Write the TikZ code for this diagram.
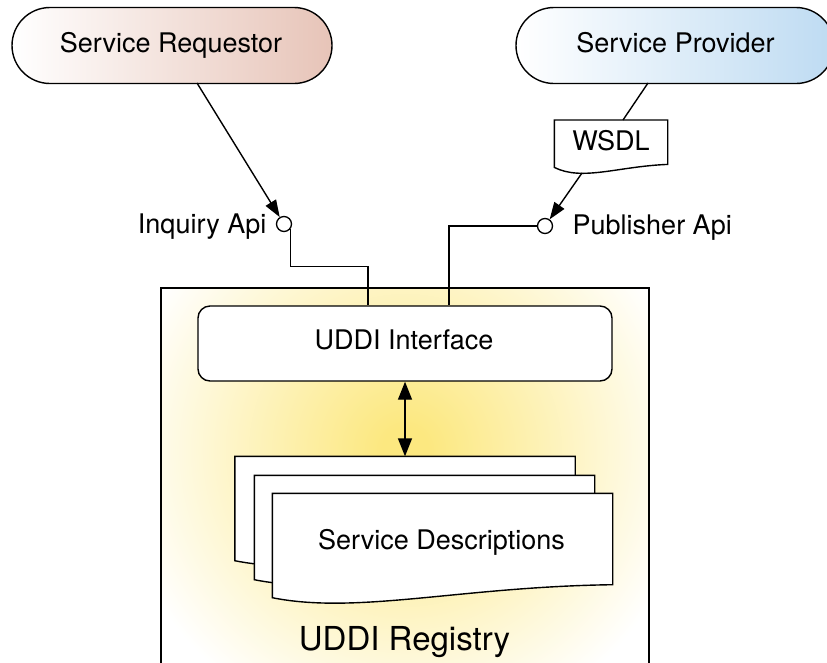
\documentclass[tikz,border=0pt]{standalone}
\usepackage{fontspec}
\setmainfont{TeX Gyre Heros}
\usetikzlibrary{arrows.meta,calc}
\definecolor{reqc}{RGB}{231,196,184}
\definecolor{provc}{RGB}{190,219,242}
\definecolor{regc}{RGB}{252,232,128}
\pgfdeclareradialshading{regshade}{\pgfpoint{0bp}{0bp}}{color(0bp)=(regc); color(2bp)=(regc); color(25bp)=(white); color(50bp)=(white)}
\newcommand\docoutline[1]{%
  \filldraw[fill=white] (#1.north west) -- (#1.north east) -- ($(#1.south east)+(0,-13)$)
    .. controls ($(#1.south east)+(-152,-11)$) and ($(#1.south west)+(85,17)$) .. (#1.south west) -- cycle;}
\begin{document}
\begin{tikzpicture}[x=1pt,y=-1pt,line width=1.4pt,
  font=\fontsize{27}{32}\selectfont,
  txt/.style={inner sep=0pt},
  pill/.style={draw, rounded corners=38pt, minimum height=76pt, inner sep=0pt},
  tip/.style={-{Triangle[length=17pt,width=12pt]}},
  port/.style={circle, draw, fill=white, minimum size=15pt, inner sep=0pt, line width=1.3pt},
  docbox/.style={minimum width=339pt, minimum height=103pt, inner sep=0pt}]
\clip (0,0) rectangle (827,662);
% registry background
\begin{scope}
  \clip (161,288) rectangle (649,680);
  \shade[shading=regshade] (405,450) circle (290);
\end{scope}
\node[draw, minimum width=488pt, minimum height=392pt, inner sep=0pt, line width=1.2pt] (reg) at (405,484) {};
\node[txt, anchor=base, font=\fontsize{33}{40}\selectfont] (regt) at (404.5,650) {UDDI Registry};
% top actors
\node[pill, minimum width=320pt, left color=white, right color=reqc] (req) at (172,45.5) {};
\node[txt, anchor=base] (reqt) at (171,52) {Service Requestor};
\node[pill, minimum width=318pt, left color=white, right color=provc] (prov) at (675,45.5) {};
\node[txt, anchor=base] (provt) at (675.5,52) {Service Provider};
% WSDL document
\node[minimum width=112pt, minimum height=46pt, inner sep=0pt] (wsdl) at (611,143.7) {};
\filldraw[fill=white] (wsdl.north west) -- (wsdl.north east) -- ($(wsdl.south east)+(0,-3)$)
  .. controls ($(wsdl.south east)+(-50,-1)$) and ($(wsdl.south west)+(28,14)$) .. (wsdl.south west) -- cycle;
\node[txt, anchor=base] (wsdlt) at (611,150) {WSDL};
% interface
\node[draw, fill=white, rounded corners=12pt, minimum width=414pt, minimum height=75pt, inner sep=0pt] (iface) at (405,343.5) {};
\node[txt, anchor=base] (ifacet) at (404,349) {UDDI Interface};
% documents
\node[docbox] (doc1) at (405,508.5) {};
\docoutline{doc1}
\node[docbox] (doc2) at (424.5,527.5) {};
\docoutline{doc2}
\node[docbox] (doc3) at (442.5,545.5) {};
\docoutline{doc3}
\node[txt, anchor=base] (sdt) at (441.5,549.5) {Service Descriptions};
% ports
\node[port] (ic) at (284,224) {};
\node[port] (pc) at (545,226) {};
\node[txt, anchor=base east] (ilab) at (267,233.5) {Inquiry Api};
\node[txt, anchor=base west] (plab) at (572,234.5) {Publisher Api};
% connectors
\coordinate (reqout) at (197,83);
\draw[tip] (reqout) -- (ic);
\coordinate (provout) at (648,83);
\draw (provout) -- ($(wsdl.north)+(12,0)$);
\coordinate (wsdlout) at (582,173);
\draw[tip] (wsdlout) -- (pc);
\draw (ic.-40) |- ($(iface.north)+(-37,-39)$) -- ($(iface.north)+(-37,0)$);
\draw (pc.west) -| ($(iface.north)+(44,0)$);
\draw[{Triangle[length=18pt,width=14pt]}-{Triangle[length=18pt,width=14pt]}] (iface.south) -- (doc1.north);
\end{tikzpicture}
\end{document}
